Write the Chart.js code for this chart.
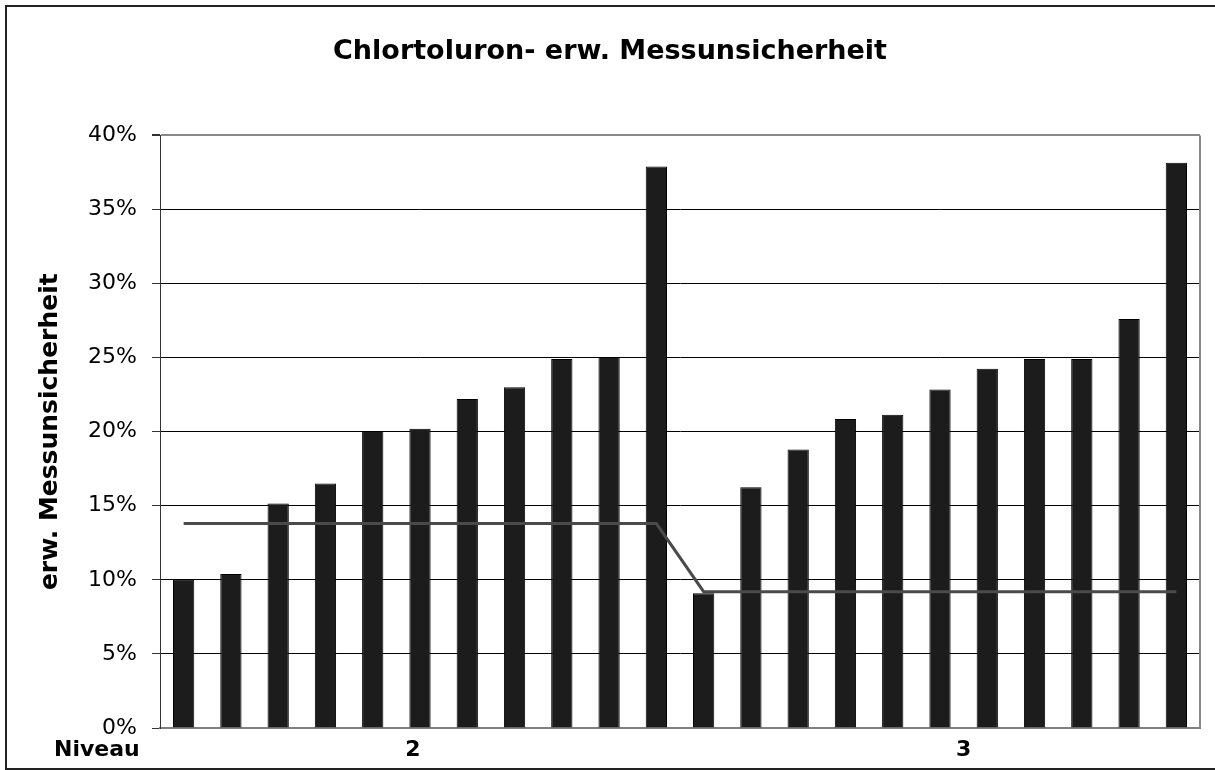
<!DOCTYPE html>
<html>
<head>
<meta charset="utf-8">
<script src="https://cdn.jsdelivr.net/npm/chart.js@4/dist/chart.umd.min.js"></script>
<style>
  body { margin: 0; background: #fff; overflow: hidden; }
</style>
</head>
<body>
<canvas id="mu-chart" width="1215" height="770"></canvas>
<script>
// Niveau of each bar
const niveau = ["2","2","2","2","2","2","2","2","2","2","2",
                "3","3","3","3","3","3","3","3","3","3","3"];
// erw. Messunsicherheit per Labor (%)
const uncertainty = [10.0, 10.4, 15.15, 16.5, 20.05, 20.2, 22.2, 23.0, 24.9, 25.05, 37.9,
                     9.1, 16.25, 18.8, 20.85, 21.15, 22.85, 24.25, 24.9, 24.9, 27.6, 38.15];
// Sollwert line per Niveau (%)
const target = [13.8, 13.8, 13.8, 13.8, 13.8, 13.8, 13.8, 13.8, 13.8, 13.8, 13.8,
                9.2, 9.2, 9.2, 9.2, 9.2, 9.2, 9.2, 9.2, 9.2, 9.2, 9.2];
const yTicks = [0, 5, 10, 15, 20, 25, 30, 35, 40];
const groupLabels = ["2", "3"];
const groupLabelAt = [4.85, 16.5]; // position in category units

const extras = {
  id: "extras",
  afterDraw(chart) {
    const c = chart.ctx;
    const area = chart.chartArea;
    const x = chart.scales.x;
    c.save();
    // outer frame (right side runs off the picture)
    c.strokeStyle = "#222";
    c.lineWidth = 2;
    c.beginPath();
    c.moveTo(1215, 6);
    c.lineTo(6, 6);
    c.lineTo(6, 769);
    c.lineTo(1215, 769);
    c.stroke();
    // right edge of plot
    c.strokeStyle = "#888";
    c.lineWidth = 2;
    c.beginPath();
    c.moveTo(area.right, area.top);
    c.lineTo(area.right, area.bottom);
    c.stroke();
    // category labels
    c.fillStyle = "#000";
    c.font = "bold 22px 'DejaVu Sans'";
    c.textBaseline = "middle";
    c.textAlign = "center";
    groupLabels.forEach(function (lbl, i) {
      c.fillText(lbl, x.getPixelForValue(groupLabelAt[i]), 750);
    });
    c.textAlign = "left";
    c.fillText("Niveau", 54, 750);
    c.restore();
  }
};

const ctx = document.getElementById("mu-chart").getContext("2d");
new Chart(ctx, {
  data: {
    labels: niveau,
    datasets: [
      {
        type: "line",
        data: target,
        borderColor: "#4a4a4a",
        borderWidth: 3,
        pointRadius: 0,
        fill: false,
        order: 0
      },
      {
        type: "bar",
        data: uncertainty,
        backgroundColor: "#1c1c1c",
        borderColor: "#000",
        borderWidth: 1,
        barPercentage: 0.45,
        categoryPercentage: 1,
        order: 1
      }
    ]
  },
  options: {
    responsive: false,
    animation: false,
    layout: { padding: { left: 20, right: 15, top: 0, bottom: 42 } },
    plugins: {
      legend: { display: false },
      tooltip: { enabled: false },
      title: {
        display: true,
        text: "Chlortoluron- erw. Messunsicherheit",
        color: "#000",
        font: { family: "'DejaVu Sans'", size: 27, weight: "bold" },
        padding: { top: 36, bottom: 67 }
      }
    },
    scales: {
      x: {
        ticks: { display: false },
        grid: { display: false, drawTicks: false },
        border: { color: "#808080", width: 2 }
      },
      y: {
        min: 0,
        max: 40,
        afterBuildTicks(scale) {
          scale.ticks = yTicks.map(v => ({ value: v }));
        },
        afterFit(scale) {
          scale.width = 140;
        },
        ticks: {
          color: "#000",
          padding: 15,
          font: { family: "'DejaVu Sans'", size: 22 },
          callback: v => v + "%"
        },
        grid: {
          color: c => (c.tick.value === 40 || c.tick.value === 0) ? "#888" : "#000",
          lineWidth: c => c.tick.value === 40 ? 2 : 1,
          tickColor: "#333",
          tickLength: 8
        },
        border: { color: "#333", width: 1 },
        title: {
          display: true,
          text: "erw. Messunsicherheit",
          color: "#000",
          font: { family: "'DejaVu Sans'", size: 25, weight: "bold" },
          padding: { top: 15, bottom: 0 }
        }
      }
    }
  },
  plugins: [extras]
});
</script>
</body>
</html>
